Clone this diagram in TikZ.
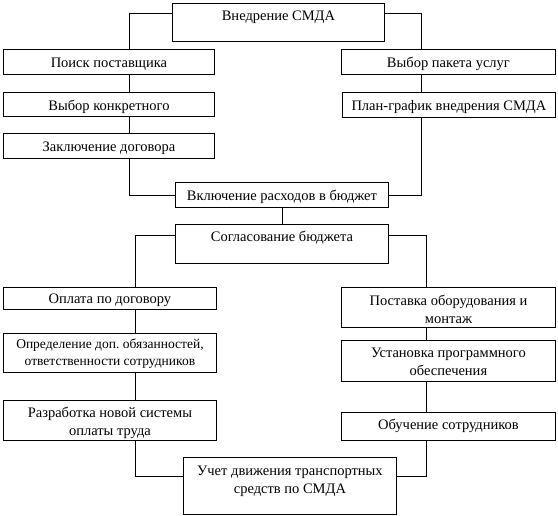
\documentclass[tikz,border=0pt]{standalone}
\usepackage{fontspec}
\setmainfont{Liberation Serif}
\frenchspacing
\tikzset{
  boxst/.style={draw=black, line width=0.9pt, inner sep=0pt, fill=white,
    font=\fontsize{14.5}{18}\selectfont},
  conn/.style={draw=black, line width=0.8pt}
}
% name, x1, y1, x2, y2, baseline offset, text
\newcommand{\bx}[7]{%
  \node[boxst, anchor=north west] (#1) at (#2,#3)
   {\parbox[c][\dimexpr #5pt-#3pt\relax][t]{\dimexpr #4pt-#2pt\relax}{\centering\rule{0pt}{#6pt}#7}};}
\begin{document}
\begin{tikzpicture}[x=1pt,y=-1pt]
\useasboundingbox (0,0) rectangle (558,516);
\bx{top}{172}{3}{384}{41}{17}{Внедрение СМДА}
\bx{poisk}{3}{49}{214}{74}{18}{Поиск поставщика}
\bx{vybor}{3}{92}{214}{116}{18}{Выбор конкретного}
\bx{zakl}{3}{133}{214}{158}{18}{Заключение договора}
\bx{paket}{341}{49}{555}{74}{18}{Выбор пакета услуг}
\bx{plan}{342}{92}{555}{117}{18}{План-график внедрения СМДА}
\bx{vkl}{175}{182}{388}{207}{18}{Включение расходов в бюджет}
\bx{sogl}{175}{224}{388}{263}{17}{Согласование бюджета}
\bx{oplata}{3}{287}{216}{309}{16}{Оплата по договору}
\node[boxst, anchor=north west, font=\fontsize{13.5}{17}\selectfont] (opred) at (3,333)
   {\parbox[c][39pt][t]{213pt}{\centering\rule{0pt}{15pt}Определение доп. обязанностей,\\ответственности сотрудников}};
\bx{razr}{3}{400}{216}{440}{17}{Разработка новой системы\\оплаты труда}
\bx{postavka}{341}{287}{555}{327}{18}{Поставка оборудования и\\монтаж}
\bx{ustan}{341}{340}{555}{381}{17}{Установка программного\\обеспечения}
\bx{obuch}{341}{412}{555}{440}{17}{Обучение сотрудников}
\bx{uchet}{183}{457}{396}{514}{18}{Учет движения транспортных\\средств по СМДА}
% left upper chain
\draw[conn] ([yshift=-10pt]top.north west) -| (poisk.north -| 129,0);
\draw[conn] (poisk.south -| 129,0) -- (vybor.north -| 129,0);
\draw[conn] (vybor.south -| 129,0) -- (zakl.north -| 129,0);
\draw[conn] (zakl.south -| 129,0) |- (vkl.west);
% right upper chain
\draw[conn] ([yshift=-10pt]top.north east) -| (paket.north -| 421.5,0);
\draw[conn] (paket.south -| 421.5,0) -- (plan.north -| 421.5,0);
\draw[conn] (plan.south -| 421.5,0) |- (vkl.east);
% middle
\draw[conn] (vkl.south) -- (sogl.north);
% left lower chain
\draw[conn] ([yshift=-11pt]sogl.north west) -| (oplata.north -| 135,0);
\draw[conn] (oplata.south -| 135,0) -- (opred.north -| 135,0);
\draw[conn] (opred.south -| 135,0) -- (razr.north -| 135,0);
\draw[conn] (razr.south -| 135,0) |- ([yshift=-19pt]uchet.north west);
% right lower chain
\draw[conn] ([yshift=-11pt]sogl.north east) -| (postavka.north -| 426,0);
\draw[conn] (postavka.south -| 426,0) -- (ustan.north -| 426,0);
\draw[conn] (ustan.south -| 426,0) -- (obuch.north -| 426,0);
\draw[conn] (obuch.south -| 426,0) |- ([yshift=-19pt]uchet.north east);
\end{tikzpicture}
\end{document}
